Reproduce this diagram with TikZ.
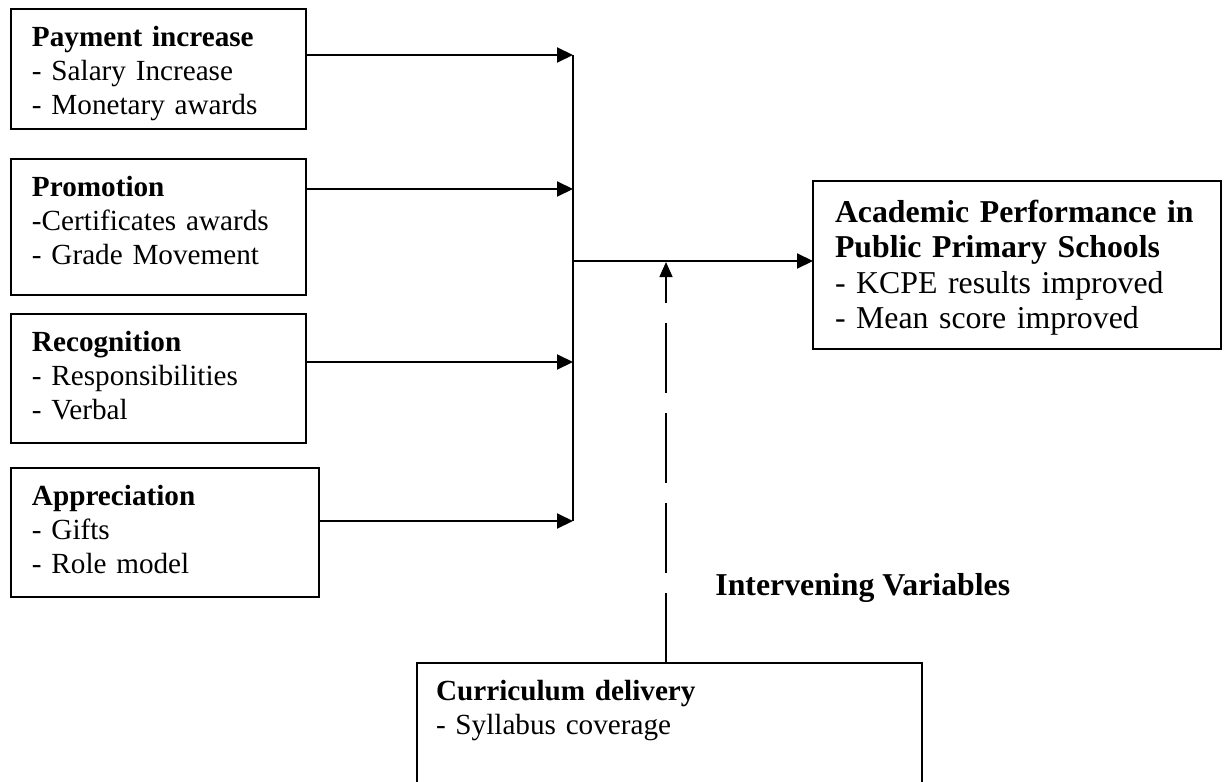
\documentclass[tikz,border=0pt]{standalone}
\usepackage{fontspec}
\setmainfont{Liberation Serif}
\usetikzlibrary{arrows.meta}
\tikzset{
	box/.style={draw, line width=1pt, outer sep=0pt, anchor=north west, align=left, inner ysep=0pt, inner xsep=10.5pt, text height=18.75pt, font=\fontsize{14.6}{17}\selectfont},
	link/.style={line width=1pt, -{Triangle[length=8pt,width=7.5pt]}},
	dashlink/.style={line width=0.7pt, dash pattern=on 35pt off 10pt, -{Triangle[length=7.5pt,width=6.5pt]}}
}
\begin{document}
\begin{tikzpicture}[x=0.5pt,y=-0.5pt]
				\useasboundingbox (0,0) rectangle (1224,781);
				\node [box, text width=126.5pt, text depth=41.3pt] (pay) at (11,9) {\textbf{Payment increase}\\- Salary Increase\\- Monetary awards};
				\node [box, text width=126.5pt, text depth=49pt] (promo) at (11,159) {\textbf{Promotion}\\-Certificates awards\\- Grade Movement};
				\node [box, text width=126.5pt, text depth=45.5pt] (recog) at (11,314) {\textbf{Recognition}\\- Responsibilities\\- Verbal};
				\node [box, text width=133pt, text depth=45.5pt] (apprec) at (11,468) {\textbf{Appreciation}\\- Gifts\\- Role model};
				\node [box, inner xsep=11pt, text width=182pt, text height=20.5pt, text depth=63.5pt, font=\fontsize{15.9}{17.75}\selectfont] (perf) at (813,181) {\textbf{Academic Performance in}\\\textbf{Public Primary Schools}\\- KCPE results improved\\- Mean score improved};
				\node [box, inner xsep=9.5pt, text width=233.5pt, text height=18.5pt, text depth=80pt] (curric) at (417,663) {\textbf{Curriculum delivery}\\- Syllabus coverage};
				\node [anchor=base west, inner sep=0pt, font=\fontsize{15.9}{17.75}\selectfont] (invar) at (715,595) {\textbf{Intervening Variables}};
				\coordinate (in1) at (573,55);
				\coordinate (in2) at (573,189);
				\coordinate (in3) at (573,362);
				\coordinate (in4) at (573,521);
				\coordinate (hub) at (573,261);
				\coordinate (vin) at (666,262);
				\draw [link] (pay.east |- in1) -- (in1);
				\draw [link] (promo.east |- in2) -- (in2);
				\draw [link] (recog.east |- in3) -- (in3);
				\draw [link] (apprec.east |- in4) -- (in4);
				\draw [line width=1pt] (in1) -- (in4);
				\draw [link] (hub) -- (perf.west |- hub);
				\draw [dashlink] (curric.north -| vin) -- (vin);
			\end{tikzpicture}
\end{document}
